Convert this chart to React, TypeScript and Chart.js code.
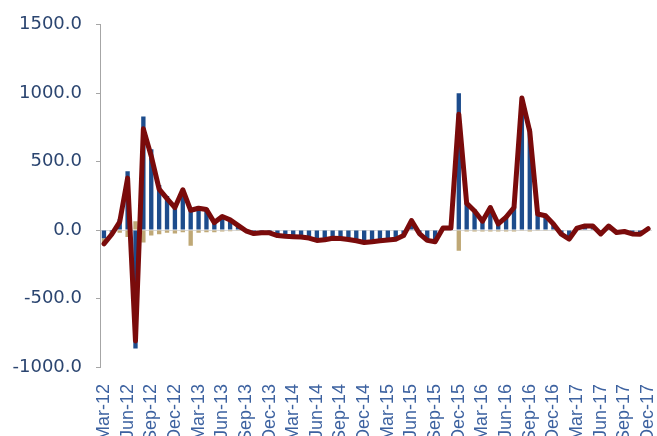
import React, { useEffect, useRef } from "react";
import { Chart, registerables } from "chart.js";

Chart.register(...registerables);

const categories = [
  "Mar-12","Apr-12","May-12","Jun-12","Jul-12","Aug-12","Sep-12","Oct-12","Nov-12","Dec-12",
  "Jan-13","Feb-13","Mar-13","Apr-13","May-13","Jun-13","Jul-13","Aug-13","Sep-13","Oct-13","Nov-13","Dec-13",
  "Jan-14","Feb-14","Mar-14","Apr-14","May-14","Jun-14","Jul-14","Aug-14","Sep-14","Oct-14","Nov-14","Dec-14",
  "Jan-15","Feb-15","Mar-15","Apr-15","May-15","Jun-15","Jul-15","Aug-15","Sep-15","Oct-15","Nov-15","Dec-15",
  "Jan-16","Feb-16","Mar-16","Apr-16","May-16","Jun-16","Jul-16","Aug-16","Sep-16","Oct-16","Nov-16","Dec-16",
  "Jan-17","Feb-17","Mar-17","Apr-17","May-17","Jun-17","Jul-17","Aug-17","Sep-17","Oct-17","Nov-17","Dec-17",
];

const blueSeries = [
  -60, -10, 80, 430, -865, 830, 590, 330, 250, 190,
  290, 160, 175, 160, 70, 110, 80, 40, 5, -20, -15, -15,
  -35, -40, -45, -45, -55, -70, -65, -55, -58, -62, -72, -85,
  -80, -72, -68, -60, -35, 60, -20, -70, -80, 20, 10, 1000,
  200, 150, 75, 170, 55, 105, 175, 930, 740, 120, 110, 50,
  -25, -60, 10, 25, 25, -25, 25, -15, -10, -25, -25, 15,
];

const tanSeries = [
  -40, -20, -20, -50, 65, -90, -40, -30, -20, -25,
  -15, -115, -20, -15, -15, -10, -8, -5, -10, -5, -5, -5,
  -5, -5, -5, -5, -5, -5, -5, -5, -5, -5, -5, -5,
  -5, -5, -5, -5, -5, 10, -5, -5, -5, -5, 5, -150,
  -10, -10, -10, -10, -10, -10, -10, -5, -10, -5, -5, -5,
  -3, -3, -3, -3, -3, -3, -3, -3, -3, -3, -3, -3,
];

const totalSeries = [
  -100, -30, 60, 380, -810, 740, 540, 300, 230, 165,
  295, 145, 160, 150, 55, 100, 75, 35, -5, -25, -20, -20,
  -40, -45, -48, -50, -58, -75, -70, -60, -62, -68, -78, -90,
  -85, -78, -72, -66, -40, 70, -25, -75, -85, 15, 15, 846,
  195, 140, 65, 165, 45, 95, 165, 965, 720, 118, 105, 45,
  -30, -66, 15, 30, 30, -28, 30, -17, -10, -28, -30, 10,
];

const yMin = -1000;
const yMax = 1500;
const yStep = 500;

export default function App() {
  const canvasRef = useRef<HTMLCanvasElement | null>(null);

  useEffect(() => {
    const canvas = canvasRef.current;
    if (!canvas) return;
    const chart = new Chart(canvas, {
      type: "bar",
      data: {
        labels: categories,
        datasets: [
          {
            type: "line",
            label: "Total",
            data: totalSeries,
            borderColor: "#7A0B0B",
            backgroundColor: "#7A0B0B",
            borderWidth: 5,
            pointRadius: 0,
            tension: 0,
            borderJoinStyle: "round",
            borderCapStyle: "round",
            stack: "line",
            order: 0,
          } as any,
          {
            label: "Blue",
            data: blueSeries,
            backgroundColor: "#1D4C8C",
            stack: "bars",
            order: 1,
            barPercentage: 0.55,
            categoryPercentage: 1,
          },
          {
            label: "Tan",
            data: tanSeries,
            backgroundColor: "#BFA876",
            stack: "bars",
            order: 2,
            barPercentage: 0.55,
            categoryPercentage: 1,
          },
        ],
      },
      options: {
        animation: false,
        responsive: false,
        maintainAspectRatio: false,
        layout: { padding: { top: 23, right: 5, left: 0, bottom: 0 } },
        plugins: {
          legend: { display: false },
          tooltip: { enabled: false },
        },
        scales: {
          x: {
            stacked: true,
            grid: { display: false },
            border: { display: false },
            ticks: {
              autoSkip: false,
              minRotation: 90,
              maxRotation: 90,
              padding: 9,
              color: "#3D62A0",
              font: { family: "Liberation Sans", size: 18 },
              callback: function (_v: any, i: number) {
                return i % 3 === 0 ? categories[i] : "";
              },
            },
            afterFit: (scale: any) => {
              scale.height = 69;
              scale.paddingLeft = 0;
              scale.paddingRight = 0;
            },
          },
          y: {
            stacked: true,
            min: yMin,
            max: yMax,
            border: { display: true, color: "#A6A6A6", width: 1 },
            grid: {
              drawOnChartArea: true,
              color: (ctx: any) => (ctx.tick && ctx.tick.value === 0 ? "#D9D9D9" : "rgba(0,0,0,0)"),
              tickColor: "#A6A6A6",
              tickLength: 4,
              drawTicks: true,
            },
            ticks: {
              stepSize: yStep,
              padding: 14,
              color: "#2B4570",
              font: { family: "DejaVu Sans", size: 18 },
              callback: (v: any) => Number(v).toFixed(1),
            },
            afterFit: (scale: any) => {
              scale.width = 100;
            },
          },
        },
      },
    });
    return () => chart.destroy();
  }, []);

  return (
    <div style={{ position: "fixed", left: 0, top: 0, width: 657, height: 436, background: "#ffffff" }}>
      <canvas ref={canvasRef} width={657} height={436} style={{ display: "block" }} />
    </div>
  );
}
